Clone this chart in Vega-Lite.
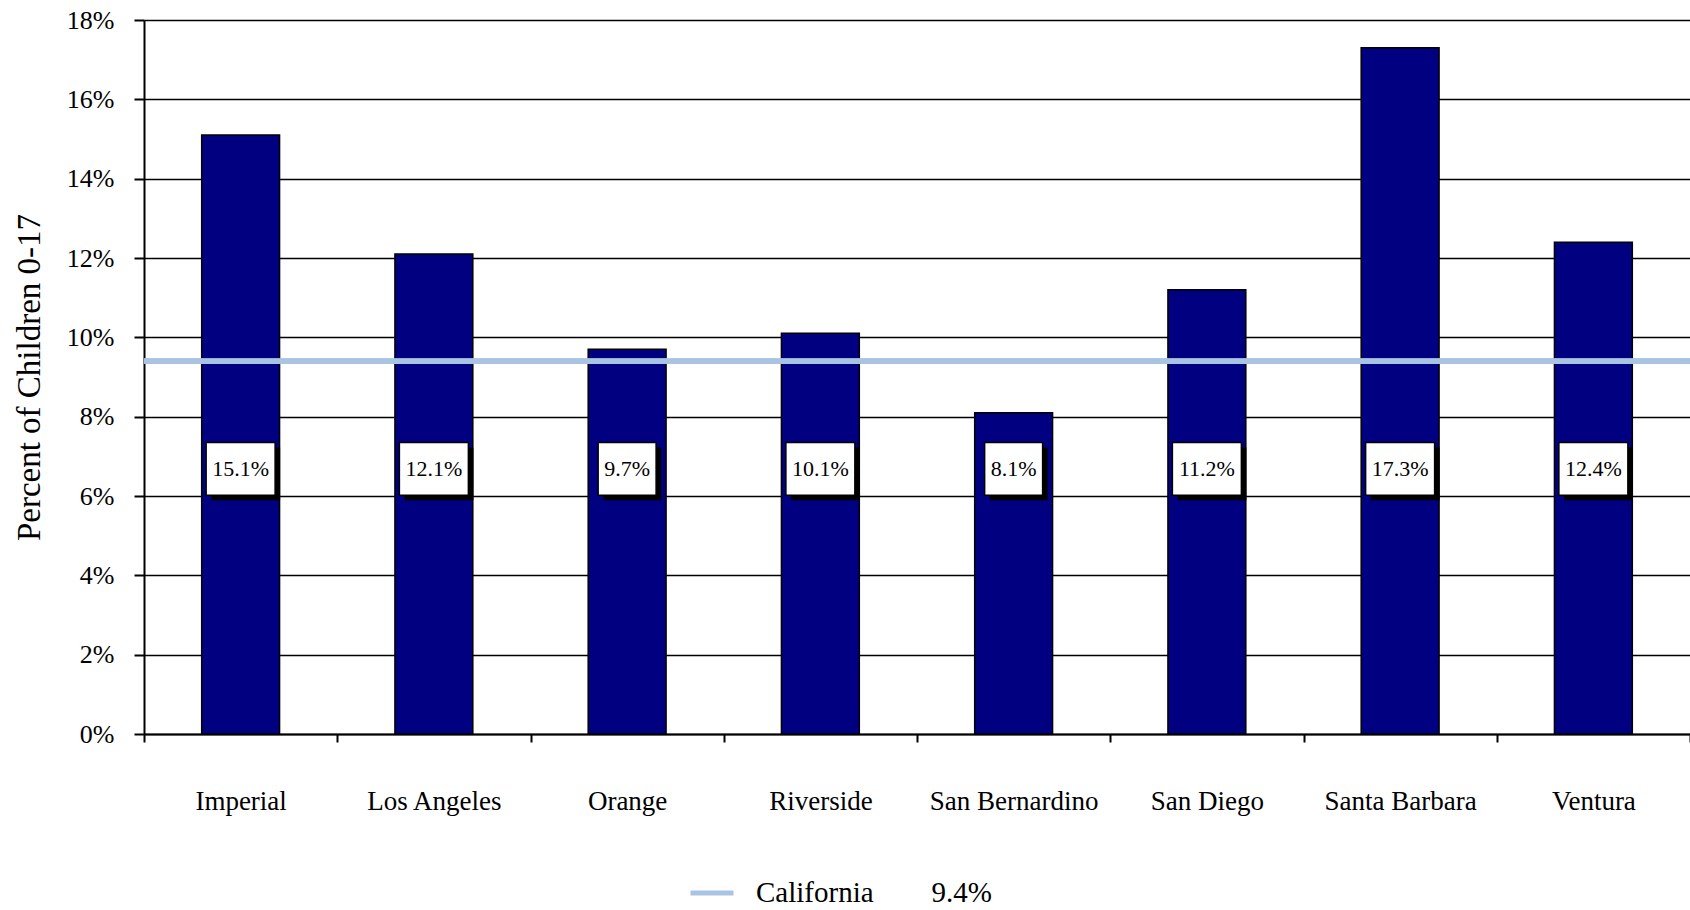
{
  "$schema": "https://vega.github.io/schema/vega-lite/v6.json",
  "autosize": {"type": "none"},
  "width": 1546,
  "height": 714,
  "padding": {"left": 144, "top": 20, "right": 0, "bottom": 176},
  "background": "white",
  "config": {
    "view": {"stroke": null},
    "font": "Liberation Serif",
    "axis": {"labelFont": "Liberation Serif", "titleFont": "Liberation Serif", "labelColor": "black", "titleColor": "black", "domainColor": "black", "tickColor": "black"},
    "legend": {"labelFont": "Liberation Serif"}
  },
  "data": {
    "values": [
      {"county": "Imperial", "pct": 0.151},
      {"county": "Los Angeles", "pct": 0.121},
      {"county": "Orange", "pct": 0.097},
      {"county": "Riverside", "pct": 0.101},
      {"county": "San Bernardino", "pct": 0.081},
      {"county": "San Diego", "pct": 0.112},
      {"county": "Santa Barbara", "pct": 0.173},
      {"county": "Ventura", "pct": 0.124}
    ]
  },
  "layer": [
    {
      "mark": {"type": "bar", "width": {"band": 0.403}, "fill": "#000080", "stroke": "black", "strokeWidth": 1.5},
      "encoding": {
        "x": {
          "field": "county", "type": "nominal", "sort": null,
          "scale": {"paddingInner": 0, "paddingOuter": 0},
          "axis": {
            "title": null, "labelAngle": 0, "labelFontSize": 27, "labelPadding": 46, "labelLimit": 300,
            "tickBand": "extent", "tickSize": 8, "tickWidth": 2, "domainWidth": 2, "grid": false
          }
        },
        "y": {
          "field": "pct", "type": "quantitative",
          "scale": {"domain": [0, 0.18], "nice": false},
          "axis": {
            "values": [0, 0.02, 0.04, 0.06, 0.08, 0.1, 0.12, 0.14, 0.16, 0.18],
            "format": ".0%", "labelFontSize": 26, "labelPadding": 20,
            "tickSize": 10, "tickWidth": 2, "domainWidth": 2,
            "grid": true, "gridColor": "black", "gridWidth": 1.5, "gridOpacity": 1,
            "title": "Percent of Children 0-17", "titleFontSize": 33, "titleFontWeight": "normal", "titlePadding": 20
          }
        }
      }
    },
    {
      "mark": {"type": "rule", "strokeWidth": 5},
      "encoding": {
        "y": {"datum": 0.094, "type": "quantitative"},
        "color": {
          "datum": "California", "type": "nominal",
          "scale": {"range": ["#a9c4e2"]},
          "legend": {
            "title": null, "orient": "none", "legendX": 544, "legendY": 849,
            "symbolType": "stroke", "symbolStrokeWidth": 5, "symbolSize": 1849,
            "labelFontSize": 29, "labelOffset": 20, "labelColor": "black", "labelLimit": 500,
            "labelExpr": "datum.label + '\u00a0\u00a0\u00a0\u00a0\u00a0\u00a0\u00a0\u00a09.4%'"
          }
        }
      }
    },
    {
      "transform": [{"filter": "datum.pct >= 0.1"}],
      "mark": {"type": "bar", "width": {"band": 0.357}, "fill": "black", "xOffset": 5, "yOffset": 5, "y2Offset": 5},
      "encoding": {"x": {"field": "county", "type": "nominal", "sort": null}, "y": {"datum": 0.0735, "type": "quantitative"}, "y2": {"datum": 0.0602}}
    },
    {
      "transform": [{"filter": "datum.pct < 0.1"}],
      "mark": {"type": "bar", "width": {"band": 0.30}, "fill": "black", "xOffset": 5, "yOffset": 5, "y2Offset": 5},
      "encoding": {"x": {"field": "county", "type": "nominal", "sort": null}, "y": {"datum": 0.0735, "type": "quantitative"}, "y2": {"datum": 0.0602}}
    },
    {
      "transform": [{"filter": "datum.pct >= 0.1"}],
      "mark": {"type": "bar", "width": {"band": 0.357}, "fill": "white", "stroke": "black", "strokeWidth": 1.5},
      "encoding": {"x": {"field": "county", "type": "nominal", "sort": null}, "y": {"datum": 0.0735, "type": "quantitative"}, "y2": {"datum": 0.0602}}
    },
    {
      "transform": [{"filter": "datum.pct < 0.1"}],
      "mark": {"type": "bar", "width": {"band": 0.30}, "fill": "white", "stroke": "black", "strokeWidth": 1.5},
      "encoding": {"x": {"field": "county", "type": "nominal", "sort": null}, "y": {"datum": 0.0735, "type": "quantitative"}, "y2": {"datum": 0.0602}}
    },
    {
      "mark": {"type": "text", "fontSize": 22, "color": "black", "baseline": "middle", "align": "center"},
      "encoding": {
        "x": {"field": "county", "type": "nominal", "sort": null},
        "y": {"datum": 0.0668, "type": "quantitative"},
        "text": {"field": "pct", "type": "quantitative", "format": ".1%"}
      }
    }
  ]
}
